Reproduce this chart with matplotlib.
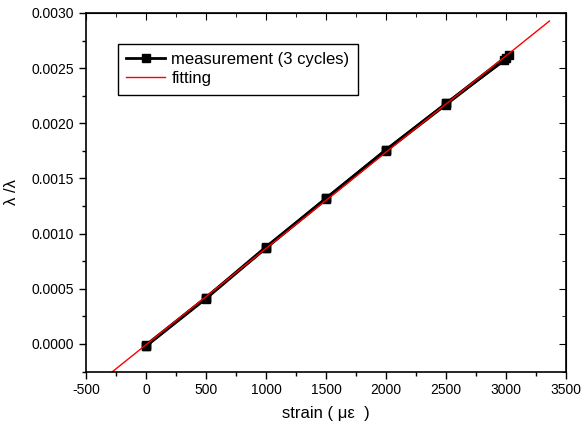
import numpy as np
import matplotlib.pyplot as plt

plt.rcParams['font.family'] = ['Liberation Sans', 'DejaVu Sans']
plt.rcParams['axes.unicode_minus'] = False

# three loading cycles
strain_1 = [0, 500, 1000, 1500, 2000, 2500, 3000]
ratio_1 = [-0.00002, 0.00042, 0.00087, 0.00131, 0.00175, 0.00217, 0.00259]
strain_2 = [0, 500, 1000, 1500, 2000, 2500, 2985]
ratio_2 = [-0.00001, 0.00042, 0.00088, 0.00132, 0.00176, 0.00218, 0.00257]
strain_3 = [0, 500, 1000, 1500, 2000, 2500, 3020]
ratio_3 = [-0.00002, 0.00041, 0.00087, 0.00132, 0.00176, 0.00218, 0.00262]

fit_range = [-320, 3360]

all_x = np.array(strain_1 + strain_2 + strain_3)
all_y = np.array(ratio_1 + ratio_2 + ratio_3)
k, b = np.polyfit(all_x, all_y, 1)
fx = np.array(fit_range)

fig = plt.figure(figsize=(5.88, 4.32), dpi=100)
ax = fig.add_axes([0.146, 0.14, 0.817, 0.83])

for i, (sx, sy) in enumerate([(strain_1, ratio_1), (strain_2, ratio_2), (strain_3, ratio_3)]):
    ax.plot(sx, sy, color='black', lw=2, marker='s', ms=6,
            label='measurement (3 cycles)' if i == 0 else None)
ax.plot(fx, k*fx + b, color='red', lw=1, label='fitting')

ax.set_xlim(-500, 3500)
ax.set_ylim(-0.00025, 0.0030)
ax.set_xticks(np.arange(-500, 3501, 500))
ax.set_yticks(np.arange(0, 0.00301, 0.0005))
ax.set_xticks(np.arange(-500, 3501, 250), minor=True)
ax.set_yticks(np.arange(-0.00025, 0.00301, 0.00025), minor=True)
ax.yaxis.set_major_formatter(plt.FormatStrFormatter('%.4f'))
ax.tick_params(which='both', direction='out', labelsize=10, width=1)
ax.tick_params(which='major', length=5)
ax.tick_params(which='minor', length=3)

# mirrored inward ticks on top / right
top = ax.secondary_xaxis('top')
top.set_xticks(np.arange(-500, 3501, 500))
top.set_xticks(np.arange(-500, 3501, 250), minor=True)
top.tick_params(which='both', direction='in', labeltop=False)
top.tick_params(which='major', length=5)
top.tick_params(which='minor', length=3)
right = ax.secondary_yaxis('right')
right.set_yticks(np.arange(0, 0.00301, 0.0005))
right.set_yticks(np.arange(-0.00025, 0.00301, 0.00025), minor=True)
right.tick_params(which='both', direction='in', labelright=False)
right.tick_params(which='major', length=5)
right.tick_params(which='minor', length=3)

for s in ax.spines.values():
    s.set_linewidth(1.2)

ax.set_xlabel('strain ( \u03bc\u03b5  )', fontsize=12, labelpad=6)
ax.set_ylabel('\u03bb /\u03bb', fontsize=12, labelpad=9)

ax.legend(loc='upper left', bbox_to_anchor=(0.067, 0.914), borderaxespad=0,
          fancybox=False, edgecolor='black', framealpha=1, fontsize=12,
          handlelength=2.3, labelspacing=0.25, borderpad=0.5, handletextpad=0.4)

fig.savefig('out.png', dpi=100)
